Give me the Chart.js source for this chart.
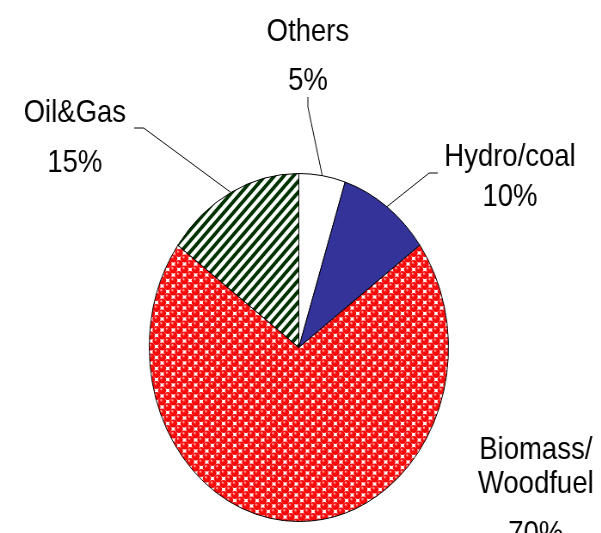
<!DOCTYPE html>
<html>
<head>
<meta charset="utf-8">
<script src="https://cdn.jsdelivr.net/npm/chart.js@4.4.1/dist/chart.umd.min.js"></script>
<style>
  html, body { margin: 0; padding: 0; background: #fff; overflow: hidden; }
  #wrap { width: 601px; height: 533px; overflow: hidden; }
  /* the original picture is squeezed horizontally, so the whole canvas is too */
  #energyPie { transform: scaleX(0.86); transform-origin: 0 0; }
</style>
</head>
<body>
<div id="wrap"><canvas id="energyPie" width="699" height="533"></canvas></div>
<script>
const categories = ['Others', 'Hydro/coal', 'Biomass/Woodfuel', 'Oil&Gas'];
const shares = [5, 10, 70, 15];
const nameLines = [['Others'], ['Hydro/coal'], ['Biomass/', 'Woodfuel'], ['Oil&Gas']];

// where each label sits (canvas coords before the squeeze)
const labelLayout = [
    {x: 358, baselines: [41, 90], leader: [[358, 97], [358, 107]]},
    {x: 593, baselines: [166, 206], leader: [[509, 173], [499, 173]]},
    {x: 623, baselines: [459, 493, 543], leader: null},
    {x: 87, baselines: [122, 172], leader: [[156, 128], [167, 128]]}
];

function stripePattern() {
    const t = 11;
    const c = document.createElement('canvas');
    c.width = t; c.height = t;
    const g = c.getContext('2d');
    g.fillStyle = '#fff';
    g.fillRect(0, 0, t, t);
    g.strokeStyle = '#003300';
    g.lineWidth = 3.8;
    g.beginPath();
    g.moveTo(0, t); g.lineTo(t, 0);
    g.moveTo(-t / 2, t / 2); g.lineTo(t / 2, -t / 2);
    g.moveTo(t / 2, t * 1.5); g.lineTo(t * 1.5, t / 2);
    g.stroke();
    return g.createPattern(c, 'repeat');
}

function ballPattern() {
    const w = 13, h = 11;
    const c = document.createElement('canvas');
    c.width = w; c.height = h;
    const g = c.getContext('2d');
    g.fillStyle = '#fff';
    g.fillRect(0, 0, w, h);
    const spots = [[0, 0], [w, 0], [0, h], [w, h], [w / 2, h / 2]];
    spots.forEach(([x, y]) => {
        const grad = g.createRadialGradient(x - 1.3, y - 1.6, 0.3, x, y, 4.8);
        grad.addColorStop(0, '#ffb8b8');
        grad.addColorStop(0.3, '#ff1010');
        grad.addColorStop(1, '#f00000');
        g.fillStyle = grad;
        g.beginPath();
        g.ellipse(x, y, 4.7, 4.0, 0, 0, Math.PI * 2);
        g.fill();
    });
    return g.createPattern(c, 'repeat');
}

const sliceLabels = {
    id: 'sliceLabels',
    afterDraw(chart) {
        const ctx = chart.ctx;
        const arcs = chart.getDatasetMeta(0).data;
        ctx.save();
        ctx.fillStyle = '#000';
        ctx.font = '32px "Liberation Sans", Arial, sans-serif';
        ctx.textAlign = 'center';
        ctx.textBaseline = 'alphabetic';
        categories.forEach((cat, i) => {
            const lay = labelLayout[i];
            const lines = nameLines[i].concat([shares[i] + '%']);
            lines.forEach((txt, j) => ctx.fillText(txt, lay.x, lay.baselines[j]));
            if (lay.leader) {
                const a = arcs[i];
                const mid = (a.startAngle + a.endAngle) / 2;
                const ex = a.x + Math.cos(mid) * a.outerRadius;
                const ey = a.y + Math.sin(mid) * a.outerRadius;
                ctx.strokeStyle = '#000';
                ctx.lineWidth = 1;
                ctx.beginPath();
                ctx.moveTo(lay.leader[0][0], lay.leader[0][1]);
                ctx.lineTo(lay.leader[1][0], lay.leader[1][1]);
                ctx.lineTo(ex, ey);
                ctx.stroke();
            }
        });
        ctx.restore();
    }
};

new Chart(document.getElementById('energyPie'), {
    type: 'pie',
    data: {
        labels: categories,
        datasets: [{
            data: shares,
            backgroundColor: ['#ffffff', '#333399', ballPattern(), stripePattern()],
            borderColor: '#000',
            borderWidth: 1
        }]
    },
    options: {
        responsive: false,
        animation: false,
        layout: {padding: {left: 171, top: 173, right: 175, bottom: 11}},
        plugins: {
            legend: {display: false},
            tooltip: {enabled: false}
        }
    },
    plugins: [sliceLabels]
});
</script>
</body>
</html>
